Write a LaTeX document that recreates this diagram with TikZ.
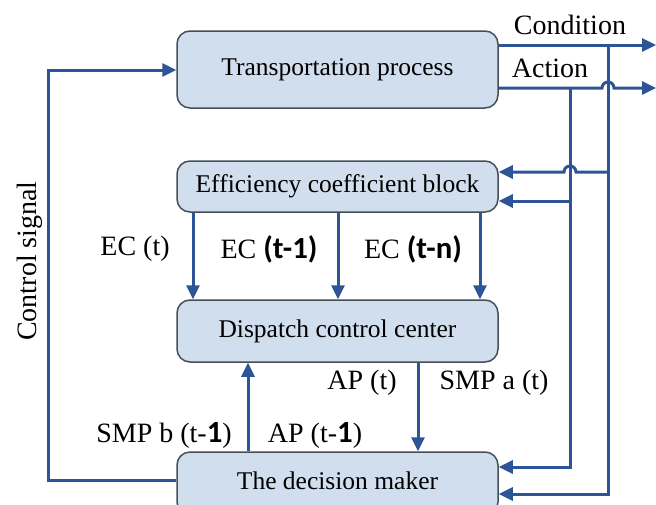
\documentclass[tikz,border=0pt]{standalone}
\usepackage{fontspec}
\setmainfont{Liberation Serif}
\newfontfamily\bsf{Carlito}[BoldFont={Carlito Bold},Scale=1.1]
\usetikzlibrary{arrows.meta}
\definecolor{linecol}{RGB}{44,84,150}
\definecolor{boxfill}{RGB}{208,222,238}
\definecolor{boxline}{RGB}{70,78,88}
\newcommand{\bd}[1]{{\bsf\bfseries #1}}
\begin{document}
\begin{tikzpicture}[x=1pt,y=-1pt,
  blk/.style={draw=boxline,fill=boxfill,line width=1.5pt,rounded corners=13pt,
    minimum width=321pt,inner sep=0pt,font=\fontsize{25.5}{30}\selectfont},
  lbl/.style={inner sep=0pt,font=\fontsize{28}{32}\selectfont},
  arr/.style={draw=linecol,line width=3pt,-{Triangle[length=14pt,width=13pt]}}]
\useasboundingbox (0,0) rectangle (656,504);
% blocks
\node[blk,minimum height=77pt] (T) at (337.5,69.5) {Transportation process};
\node[blk,minimum height=51pt] (E) at (337.5,186.5) {Efficiency coefficient block};
\node[blk,minimum height=62pt] (C) at (337.5,331) {Dispatch control center};
\node[blk,minimum height=63pt] (D) at (337.5,483.5) {};
\node[inner sep=0pt,font=\fontsize{25.5}{30}\selectfont] (Dt) at (337.5,481) {The decision maker};
% coordinates
\coordinate (cs1) at (48,480);
\coordinate (cs2) at (48,70);
\coordinate (cond) at (656,45);
\coordinate (act) at (656,88);
\coordinate (va) at (570,88);
\coordinate (vc) at (608,45);
% labels
\node[lbl] (lc) at (570,25) {Condition};
\node[lbl] (la) at (550,68) {Action};
\node[lbl,rotate=90] (ls) at (30,261) {Control signal};
\node[lbl] (l1) at (135,249) {EC (t)};
\node[lbl] (l2) at (269,249) {EC \bd{(t-1)}};
\node[lbl] (l3) at (413,249) {EC \bd{(t-n)}};
\node[lbl] (l4) at (362,383) {AP (t)};
\node[lbl] (l5) at (494,383) {SMP a (t)};
\node[lbl] (l6) at (164,435) {SMP b (t-\bd{1})};
\node[lbl] (l7) at (315,435) {AP (t-\bd{1})};
% control signal
\draw[arr] (D.west |- cs1) -- (cs1) -- (cs2) -- (T.west |- cs2);
% outputs
\draw[arr] (T.east |- cond) -- (cond);
\draw[arr] (T.east |- act) -- (602,88) arc[start angle=180,end angle=0,radius=6pt] -- (act);
% feedback lines
\draw[arr] (vc) |- (D.east |- 0,494);
\draw[arr] (va) |- (D.east |- 0,467);
\draw[arr] (608,172) -- (576,172) arc[start angle=0,end angle=180,radius=6pt] -- (E.east |- 0,172);
\draw[arr] (570,201) -- (E.east |- 0,201);
% EC arrows
\draw[arr] (E.south -| 193,0) -- (C.north -| 193,0);
\draw[arr] (E.south -| 338,0) -- (C.north -| 338,0);
\draw[arr] (E.south -| 480,0) -- (C.north -| 480,0);
% AP arrows
\draw[arr] (D.north -| 248,0) -- (C.south -| 248,0);
\draw[arr] (C.south -| 418,0) -- (D.north -| 418,0);
\end{tikzpicture}
\end{document}
